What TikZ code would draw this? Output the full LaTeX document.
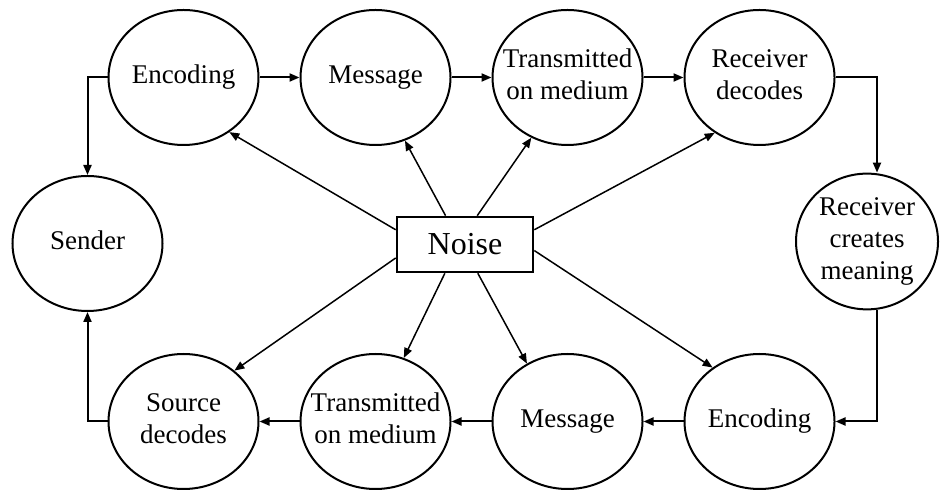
\documentclass[tikz,border=0pt]{standalone}
\usepackage{fontspec}
\setmainfont{Liberation Serif}
\usetikzlibrary{
  arrows.meta, % for the filled arrow tips
  positioning, % for relative node positioning
  shapes.geometric, % for ellipse nodes
}
% text of a stage, kept out of the ellipse size
\newcommand{\stagetext}[1]{\makebox[0pt]{\begin{tabular}{@{}c@{}}#1\end{tabular}}}

\begin{document}
\begin{tikzpicture}[%
    x=1pt, y=1pt,%
    node distance=20pt,%
    stage/.style={ellipse, draw, line width=1pt, inner sep=0pt,%
      minimum width=75pt, minimum height=67.5pt,%
      font=\fontsize{13.5}{16}\selectfont},%
    noisebox/.style={rectangle, draw, line width=1.3pt,%
      minimum width=68pt, minimum height=27.5pt,%
      font=\fontsize{16}{19}\selectfont},%
    flow/.style={-{Triangle[length=5pt, width=4pt]}, line width=1pt},%
    hit/.style={-{Triangle[length=5pt, width=4pt]}, line width=0.75pt},%
    ]
    \useasboundingbox (0,0) rectangle (470,-245);

    % top row
    \node[stage] (enc1) at (91.75,-38.75) {\stagetext{Encoding}};
    \node[stage, right=of enc1] (msg1) {\stagetext{Message}};
    \node[stage, right=of msg1] (trans1) {\stagetext{Transmitted\\ on medium}};
    \node[stage, right=of trans1] (rdec) {\stagetext{Receiver\\ decodes}};

    % bottom row
    \node[stage, below=103.5pt of enc1] (src) {\stagetext{Source\\ decodes}};
    \node[stage, right=of src] (trans2) {\stagetext{Transmitted\\ on medium}};
    \node[stage, right=of trans2] (msg2) {\stagetext{Message}};
    \node[stage, right=of msg2] (enc2) {\stagetext{Encoding}};

    % ends of the loop
    \node[stage] (sender) at (43.75,-121.75) {\stagetext{Sender}};
    \node[stage, minimum width=71pt, minimum height=66pt] (meaning)
      at (433.5,-120.75) {\stagetext{Receiver\\ creates\\ meaning}};

    \node[noisebox] (noise) at (232.5,-122.25) {Noise};

    % the loop
    \draw[flow] (enc1) -- (msg1);
    \draw[flow] (msg1) -- (trans1);
    \draw[flow] (trans1) -- (rdec);
    \draw[flow] (rdec.east) -| ([xshift=5pt]meaning.north);
    \draw[flow] ([xshift=5pt]meaning.south) |- (enc2.east);
    \draw[flow] (enc2) -- (msg2);
    \draw[flow] (msg2) -- (trans2);
    \draw[flow] (trans2) -- (src);
    \draw[flow] (src.west) -| (sender.south);
    \draw[flow] (enc1.west) -| (sender.north);

    % noise hits every step
    \draw[hit] (noise.168) -- (enc1.310);
    \draw[hit] (noise.124) -- (msg1.295);
    \draw[hit] (noise.67) -- (trans1.239);
    \draw[hit] (noise.12) -- (rdec.231);
    \draw[hit] (noise.191) -- (src.45);
    \draw[hit] (noise.235) -- (trans2.66);
    \draw[hit] (noise.294) -- (msg2.125);
    \draw[hit] (noise.355) -- (enc2.131);
  \end{tikzpicture}
\end{document}
